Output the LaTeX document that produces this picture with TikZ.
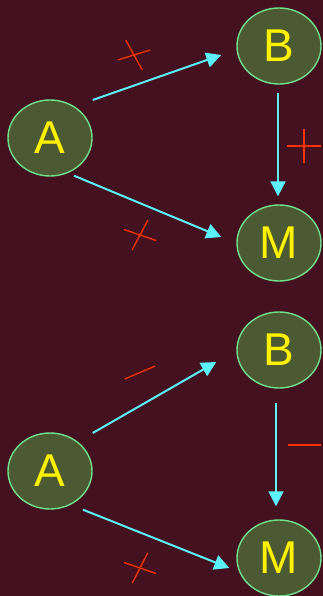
\documentclass[tikz,border=0pt]{standalone}
\usepackage{fontspec}
\setmainfont{Liberation Sans}
\usetikzlibrary{arrows.meta,positioning,shapes.geometric}
\definecolor{bgmaroon}{HTML}{43111F}
\definecolor{nodefill}{HTML}{4B5A32}
\definecolor{nodeline}{HTML}{70E08C}
\definecolor{arrowcyan}{HTML}{5CF0F8}
\definecolor{signred}{HTML}{FF3300}
\tikzset{
  var/.style={ellipse, draw=nodeline, fill=nodefill, line width=1.4pt,
    minimum width=84pt, minimum height=76pt, inner sep=0pt,
    text=yellow, font=\fontsize{46}{46}\selectfont},
  link/.style={->, draw=arrowcyan, line width=2pt},
  sign/.style={draw=signred, line width=1.3pt},
  pics/plusmark/.style 2 args={code={
    \draw[sign] (#1:-17) -- (#1:17);
    \draw[sign] (#2:-17) -- (#2:17);
  }},
  pics/minusmark/.style={code={
    \draw[sign] (#1:-16.5) -- (#1:16.5);
  }},
}

\begin{document}
\begin{tikzpicture}[x=1pt, y=-1pt, >={Triangle[length=15pt,width=15pt]}]
        \useasboundingbox[fill=bgmaroon] (0,0) rectangle (323,596);

        % upper loop
        \node[var] (A1) at (50,138) {A};
        \node[var] (B1) at (279,46) {B};
        \node[var] (M1) at (279,243) {M};

        \draw[link] ([shift={(0,-38)}]A1.east) -- ([shift={(-15,9)}]B1.west);
        \draw[link] ([shift={(24,-1)}]A1.south) -- ([shift={(-15,-6)}]M1.west);
        \draw[link] ([shift={(-1,8)}]B1.south) -- ([shift={(-1,-8)}]M1.north);

        \pic at (134,55) {plusmark={-17}{61}};
        \pic at (140,235) {plusmark={19}{-62}};
        \pic at (304,146) {plusmark={0}{90}};

        % lower loop
        \node[var] (A2) at (50,471) {A};
        \node[var] (B2) at (279,350) {B};
        \node[var] (M2) at (279,558) {M};

        \draw[link] ([shift={(0,-38)}]A2.east) -- ([shift={(-20,12)}]B2.west);
        \draw[link] ([shift={(33,0)}]A2.south) -- ([shift={(-7,10)}]M2.west);
        \draw[link] ([shift={(-3,14)}]B2.south) -- ([shift={(-3,-13)}]M2.north);

        \pic at (140,372.5) {minusmark={-23}};
        \pic at (304,445) {minusmark={0}};
        \pic at (140,568) {plusmark={19}{-63}};
\end{tikzpicture}
\end{document}
